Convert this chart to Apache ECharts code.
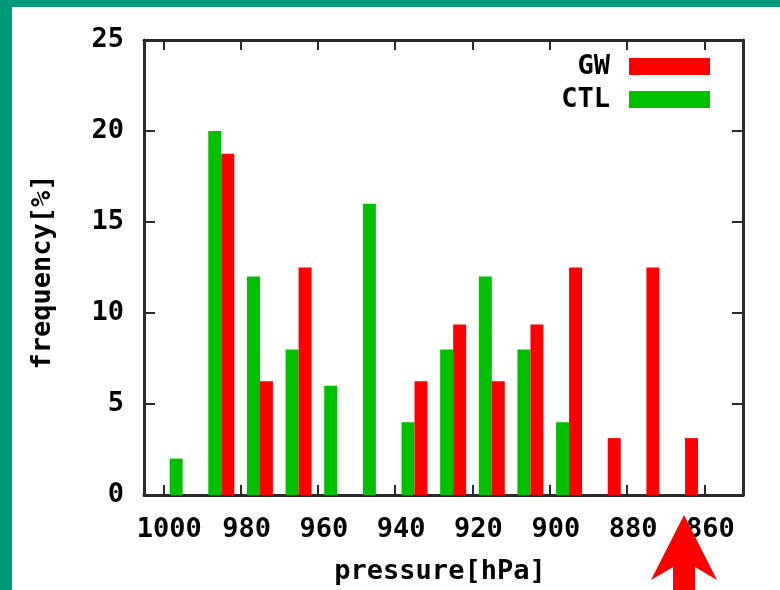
<!DOCTYPE html>
<html>
<head>
<meta charset="utf-8">
<script src="https://cdn.jsdelivr.net/npm/echarts@6/dist/echarts.min.js"></script>
<style>
  html, body { margin: 0; padding: 0; background: #ffffff; }
  #chart { width: 780px; height: 590px; }
</style>
</head>
<body>
<div id="chart"></div>
<script>
// Central pressure bins (hPa), 10 hPa wide
const bins = [995, 985, 975, 965, 955, 945, 935, 925, 915, 905, 895, 885, 875, 865];
// Frequency [%] per bin for each experiment
const ctlFreq = [2, 20, 12, 8, 6, 16, 4, 8, 12, 8, 4, 0, 0, 0];
const gwFreq = [0, 18.75, 6.25, 12.5, 0, 0, 6.25, 9.375, 6.25, 9.375, 12.5, 3.125, 12.5, 3.125];
// Tick positions on the pressure axis
const xTicks = [1000, 980, 960, 940, 920, 900, 880, 860];
// Bin pointed at by the arrow annotation
const arrowBin = 865;

const FONT = 'DejaVu Sans Mono';
const AXIS_COLOR = '#2b2b2b';
const TEXT = { fontFamily: FONT, fontWeight: 'bold', fontSize: 27, color: '#000' };

const chart = echarts.init(document.getElementById('chart'), null, { renderer: 'canvas' });

const xBase = {
  type: 'value',
  min: 850,
  max: 1005,
  inverse: true,
  splitLine: { show: false },
  axisLine: { show: true, onZero: false, lineStyle: { color: AXIS_COLOR, width: 3 } },
  axisTick: { show: true, inside: true, length: 10, customValues: xTicks,
              lineStyle: { color: AXIS_COLOR, width: 2 } }
};

const yBase = {
  type: 'value',
  min: 0,
  max: 25,
  interval: 5,
  splitLine: { show: false },
  axisLine: { show: true, onZero: false, lineStyle: { color: AXIS_COLOR, width: 3 } },
  axisTick: { show: true, inside: true, length: 11, lineStyle: { color: AXIS_COLOR, width: 2 } }
};

const option = {
  animation: false,
  backgroundColor: '#ffffff',
  grid: { left: 144, right: 37, top: 40, bottom: 93, containLabel: false },
  legend: {
    data: ['GW', 'CTL'],
    orient: 'vertical',
    align: 'right',
    right: 70,
    top: 53,
    padding: 0,
    itemWidth: 81,
    itemHeight: 17,
    itemGap: 6,
    icon: 'rect',
    textStyle: Object.assign({}, TEXT, { padding: [0, 14, 0, 0] })
  },
  xAxis: [
    Object.assign({}, xBase, {
      position: 'bottom',
      name: 'pressure[hPa]',
      nameLocation: 'middle',
      nameGap: 63,
      nameTextStyle: Object.assign({}, TEXT, { padding: [0, 7, 0, 0] }),
      axisLabel: Object.assign({}, TEXT, {
        customValues: xTicks,
        margin: 21,
        padding: [0, 0, 0, 12],
        formatter: (v) => String(v)
      })
    }),
    Object.assign({}, xBase, {
      position: 'top',
      axisLabel: { show: false }
    })
  ],
  yAxis: [
    Object.assign({}, yBase, {
      position: 'left',
      name: 'frequency[%]',
      nameLocation: 'middle',
      nameRotate: 90,
      nameGap: 88,
      nameTextStyle: Object.assign({}, TEXT, { padding: [0, 9, 0, 0] }),
      axisLabel: Object.assign({}, TEXT, { margin: 20 })
    }),
    Object.assign({}, yBase, {
      position: 'right',
      axisLabel: { show: false }
    })
  ],
  series: [
    {
      name: 'CTL',
      type: 'bar',
      xAxisIndex: 0,
      yAxisIndex: 0,
      barWidth: 13,
      barGap: '0%',
      itemStyle: { color: '#00c000' },
      data: bins.map((b, i) => [b, ctlFreq[i]])
    },
    {
      name: 'GW',
      type: 'bar',
      xAxisIndex: 0,
      yAxisIndex: 0,
      barWidth: 13,
      barGap: '0%',
      itemStyle: { color: '#ff0000' },
      data: bins.map((b, i) => [b, gwFreq[i]])
    }
  ]
};

chart.setOption(option);

// Page frame strips and the arrow marking the deepest bin
const tipX = chart.convertToPixel({ xAxisIndex: 0 }, arrowBin) - 1;
chart.setOption({
  graphic: [
    { type: 'rect', left: 0, top: 0, shape: { width: 780, height: 7 }, style: { fill: '#009a78' }, z: 100 },
    { type: 'rect', left: 0, top: 0, shape: { width: 12, height: 590 }, style: { fill: '#009a78' }, z: 100 },
    {
      type: 'polygon',
      z: 100,
      shape: {
        points: [
          [tipX, 515], [tipX + 33, 580], [tipX + 11, 567], [tipX + 11, 595],
          [tipX - 11, 595], [tipX - 11, 567], [tipX - 33, 580]
        ]
      },
      style: { fill: '#ff0000' }
    }
  ]
});
</script>
</body>
</html>
